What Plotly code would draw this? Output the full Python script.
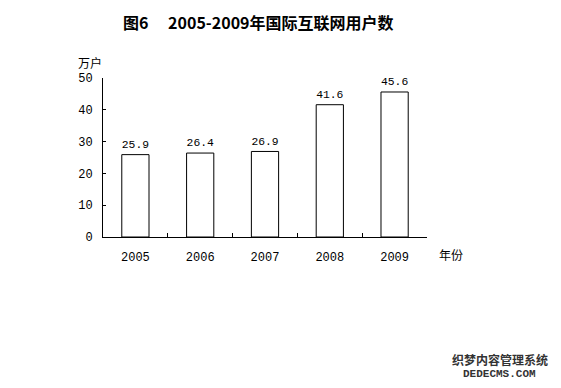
import plotly.graph_objects as go

years = ["2005", "2006", "2007", "2008", "2009"]
users = [25.9, 26.4, 26.9, 41.6, 45.6]
value_labels = ["25.9", "26.4", "26.9", "41.6", "45.6"]
y_ticks = [0, 10, 20, 30, 40, 50]

title_text = "图6　 2005-2009年国际互联网用户数"
y_unit = "万户"
x_unit = "年份"

num_font = "Liberation Mono, DejaVu Sans Mono, monospace"
cjk_font = "Noto Sans CJK SC, sans-serif"

OFF = 8  # default page body margin
W, H = 561 - OFF, 388 - OFF
ml, mt = 103 - OFF, 78 - OFF
mr = (561 - OFF) - (427 - OFF)
mb = (388 - OFF) - (237 - OFF)
pw, ph = W - ml - mr, H - mt - mb

fig = go.Figure()
fig.add_trace(go.Bar(
    x=years, y=users,
    width=0.42,
    marker=dict(color="white", line=dict(color="black", width=1)),
    text=value_labels, textposition="outside",
    textfont=dict(family=num_font, size=12, color="black"),
    cliponaxis=False,
))


def ann(text, px, py, family, size, color="black"):
    return dict(text=text, xref="paper", yref="paper",
                x=(px - OFF - ml) / pw, y=1 - (py - OFF - mt) / ph,
                xanchor="center", yanchor="middle", showarrow=False,
                font=dict(family=family, size=size, color=color))


fig.update_layout(
    width=W, height=H,
    margin=dict(l=ml, r=mr, t=mt, b=mb, autoexpand=False),
    paper_bgcolor="white", plot_bgcolor="white",
    showlegend=False,
    xaxis=dict(
        type="category", range=[-0.5, 4.5],
        showline=True, linecolor="black", linewidth=1,
        ticks="inside", ticklen=4, tickcolor="black", tickson="boundaries",
        showgrid=False, zeroline=False, ticklabelstandoff=9,
        tickfont=dict(family=num_font, size=12, color="black"),
    ),
    yaxis=dict(
        range=[0, 50], tickvals=y_ticks,
        showline=True, linecolor="black", linewidth=1,
        ticks="inside", ticklen=3, tickcolor="black",
        showgrid=False, zeroline=False, ticklabelstandoff=7,
        tickfont=dict(family=num_font, size=12, color="black"),
    ),
    annotations=[
        ann("<b>" + title_text + "</b>", 258, 22, cjk_font, 16),
        ann(y_unit, 90, 62, cjk_font, 12),
        ann(x_unit, 451, 254, cjk_font, 12),
        ann("<b>织梦内容管理系统</b>", 500, 359, cjk_font, 12, "#333"),
        ann("<b>DEDECMS.COM</b>", 500, 374, num_font, 11, "#333"),
    ],
)

fig.write_html("out.html")
